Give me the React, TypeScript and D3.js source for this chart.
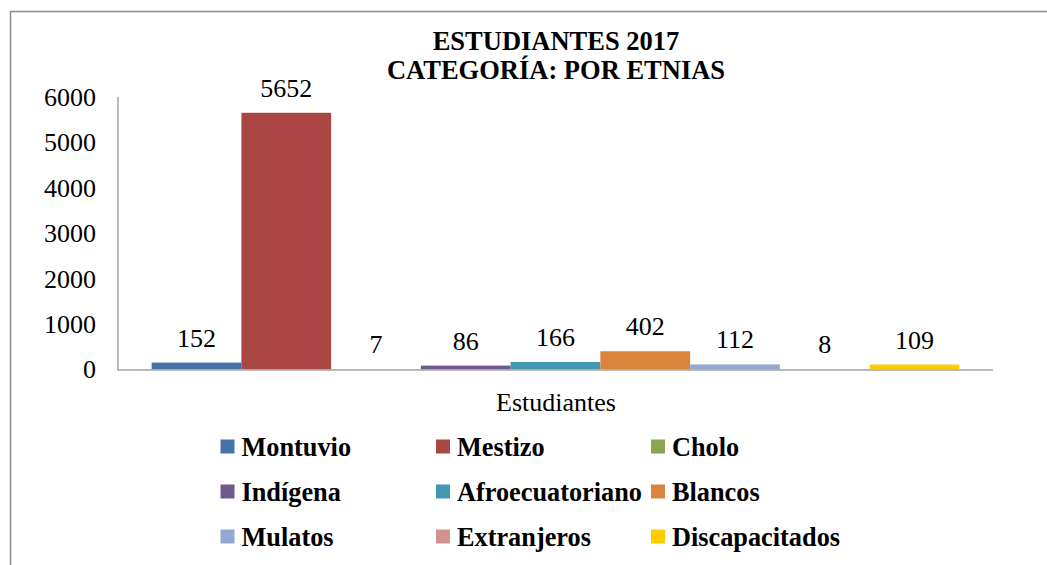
import React from "react";
import * as d3 from "d3";

const categories = [
  "Montuvio",
  "Mestizo",
  "Cholo",
  "Indígena",
  "Afroecuatoriano",
  "Blancos",
  "Mulatos",
  "Extranjeros",
  "Discapacitados",
];
const values = [152, 5652, 7, 86, 166, 402, 112, 8, 109];
const colors = [
  "#4572A7",
  "#AA4643",
  "#89A54E",
  "#71588F",
  "#4198AF",
  "#DB843D",
  "#93A9CF",
  "#D19392",
  "#FFCC00",
];
const yTicks = [0, 1000, 2000, 3000, 4000, 5000, 6000];
const titleLines = ["ESTUDIANTES 2017", "CATEGORÍA: POR ETNIAS"];
const axisCategory = "Estudiantes";

const W = 1047;
const H = 565;
const FONT = "'Liberation Serif', 'Times New Roman', serif";

export default function App() {
  const x = d3
    .scaleBand<string>()
    .domain(categories)
    .range([118, 993])
    .paddingInner(0)
    .paddingOuter(0.375);
  const y = d3.scaleLinear().domain([0, 6000]).range([369.5, 97]);

  const legendCols = [220.5, 436, 651];
  const legendRows = [439.5, 484.5, 529.5];

  return (
    <svg
      width={W}
      height={H}
      style={{ position: "absolute", left: 0, top: 0, background: "#fff" }}
      fontFamily={FONT}
    >
      <rect x={10.5} y={11.5} width={1060} height={600} fill="#fff" stroke="#8c8c8c" strokeWidth={1.5} />
      {titleLines.map((t, i) => (
        <text
          key={t}
          x={556}
          y={50 + i * 29}
          textAnchor="middle"
          fontWeight="bold"
          fontSize={26.5}
          fill="#000"
        >
          {t}
        </text>
      ))}
      {yTicks.map((t) => (
        <text key={t} x={96} y={y(t)} dy="0.34em" textAnchor="end" fontSize={26} fill="#000">
          {t}
        </text>
      ))}
      {categories.map((c, i) => {
        const bx = x(c)!;
        const top = y(values[i]);
        return (
          <g key={c}>
            <rect x={bx} y={top} width={x.bandwidth()} height={y(0) - top} fill={colors[i]} />
            <text x={bx + x.bandwidth() / 2} y={top - 16} textAnchor="middle" fontSize={26} fill="#000">
              {values[i]}
            </text>
          </g>
        );
      })}
      <line x1={118} x2={118} y1={97} y2={370} stroke="#a6a6a6" strokeWidth={1.5} />
      <line x1={117.25} x2={993} y1={370} y2={370} stroke="#a6a6a6" strokeWidth={1.5} />
      <text x={556} y={411} textAnchor="middle" fontSize={26} fill="#000">
        {axisCategory}
      </text>
      {categories.map((c, i) => {
        const cx = legendCols[i % 3];
        const cy = legendRows[Math.floor(i / 3)];
        return (
          <g key={"lg" + c}>
            <rect x={cx} y={cy} width={14} height={14} fill={colors[i]} />
            <text x={cx + 21} y={cy + 16} fontSize={26.3} fontWeight="bold" fill="#000">
              {c}
            </text>
          </g>
        );
      })}
    </svg>
  );
}
